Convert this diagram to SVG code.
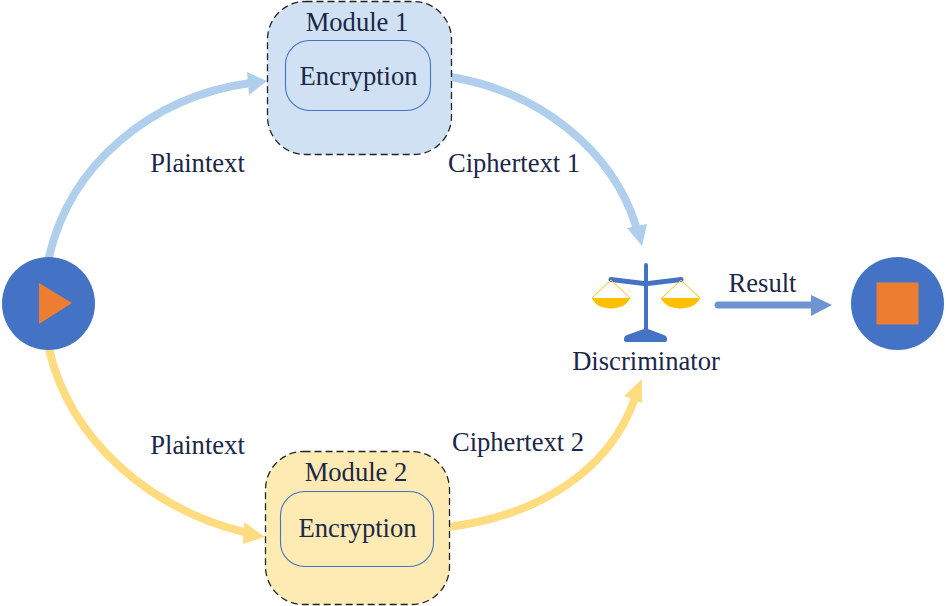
<svg xmlns="http://www.w3.org/2000/svg" width="946" height="606" viewBox="0 0 946 606">
<style>
text{font-family:"Liberation Serif","Times New Roman",serif;font-size:26.6px;fill:#1a2748;text-anchor:middle}
.mod{stroke:#222;stroke-width:1.3;stroke-dasharray:7 4}
.inner{fill:none;stroke:#4472c4;stroke-width:1.1}
.blue{fill:none;stroke:#afcfec;stroke-width:8;stroke-linecap:round}
.yel{fill:none;stroke:#ffdc80;stroke-width:8;stroke-linecap:round}
.circ{fill:#4472c4}
.pan{fill:#ffc000}
.str{fill:none;stroke:#ffc000;stroke-width:1}
</style>
<rect width="946" height="606" fill="#fff"/>
<g id="connectors">
<path class="blue" d="M49 257C70 165 150 97 250 83"/>
<polygon points="267,81 247,72 249,95" fill="#afcfec"/>
<path class="blue" d="M451 77C540 92 612 150 636 226"/>
<polygon points="642,246 627,228 647,224" fill="#afcfec"/>
<path class="yel" d="M49 349C70 440 150 510 248 533"/>
<polygon points="265,537 244,522 243,544" fill="#ffdc80"/>
<path class="yel" d="M449 527C540 515 610 470 635 398"/>
<polygon points="642,379 624,396 642,403" fill="#ffdc80"/>
<path d="M718 305H812" fill="none" stroke="#6f94d2" stroke-width="7" stroke-linecap="round"/>
<polygon points="832,305 811,295 811,316" fill="#6f94d2"/>
</g>
<g id="start"><circle class="circ" cx="48.500" cy="303.500" r="46.500"/><polygon points="39,283 72,303 39,324" fill="#ed7d31"/></g>
<g id="module1">
<rect class="mod" x="267.500" y="1.500" width="184" height="153" rx="38" fill="#cfe1f2"/>
<rect class="inner" x="285.500" y="40.500" width="145" height="70" rx="24"/>
<text x="357" y="31">Module 1</text>
<text x="358.500" y="85">Encryption</text>
</g>
<g id="module2">
<rect class="mod" x="265.500" y="451.500" width="184" height="153" rx="38" fill="#feeab3"/>
<rect class="inner" x="280.500" y="491.500" width="153" height="75" rx="24"/>
<text x="356" y="481">Module 2</text>
<text x="357.500" y="537">Encryption</text>
</g>
<g id="discriminator">
<path d="M644 265a2 2 0 0 1 4 0V329L664 335q3 1 3 4v1q0 2-3 2H626q-2 0-2-2v-1q0-3 3-4L644 329Z" fill="#4472c4"/>
<path d="M611 277L644 281H648L681 277V282L648 286H644L611 282Z" fill="#4472c4"/>
<circle cx="611" cy="279.500" r="2.500" fill="#4472c4"/><circle cx="681" cy="279.500" r="2.500" fill="#4472c4"/>
<path class="str" d="M611 280L592 298M611 280L630 298M681 280L662 298M681 280L700 298"/>
<path class="pan" d="M592 298H630C625 312 597 312 592 298Z"/>
<path class="pan" d="M661 298H700C695 312 666 312 661 298Z"/>
<text x="646" y="370">Discriminator</text>
</g>
<g id="end"><circle class="circ" cx="897.500" cy="303.500" r="46.500"/><rect x="876.500" y="282.500" width="42" height="42" fill="#ed7d31"/></g>
<g id="labels">
<text x="197.500" y="172">Plaintext</text>
<text x="514" y="172">Ciphertext 1</text>
<text x="197.500" y="454">Plaintext</text>
<text x="518" y="451">Ciphertext 2</text>
<text x="762.500" y="292">Result</text>
</g>
</svg>
